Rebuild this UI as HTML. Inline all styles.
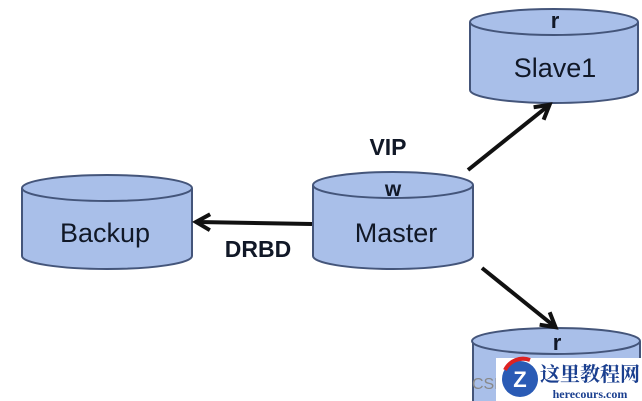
<!DOCTYPE html>
<html><head><meta charset="utf-8"><style>
html,body{margin:0;padding:0;background:#fff;}
svg{display:block}
</style></head><body>
<svg width="642" height="401" viewBox="0 0 642 401" xmlns="http://www.w3.org/2000/svg" font-family="Liberation Sans, sans-serif">
<defs>
<marker id="ah" markerWidth="20" markerHeight="20" refX="14" refY="10" orient="auto" markerUnits="userSpaceOnUse" viewBox="0 0 20 20">
<path d="M2,2 L16,10 L2,18" fill="none" stroke="#111" stroke-width="4"/>
</marker>
</defs>
<g fill="#a9bfe9" stroke="#44557a" stroke-width="2">
<path d="M470,22 L470,90 A84,13 0 0 0 638,90 L638,22"/>
<ellipse cx="554" cy="22" rx="84" ry="13"/>
<path d="M313,185 L313,256 A80,13 0 0 0 473,256 L473,185"/>
<ellipse cx="393" cy="185" rx="80" ry="13"/>
<path d="M22,188 L22,256 A85,13 0 0 0 192,256 L192,188"/>
<ellipse cx="107" cy="188" rx="85" ry="13"/>
<path d="M473,341 L473,410 L640,410 L640,341"/>
<ellipse cx="556" cy="341" rx="84" ry="13"/>
</g>
<g stroke="#111" stroke-width="4" fill="none">
<line x1="312" y1="224" x2="198" y2="222" marker-end="url(#ah)"/>
<line x1="468" y1="170" x2="548" y2="106" marker-end="url(#ah)"/>
<line x1="482" y1="268" x2="554" y2="326" marker-end="url(#ah)"/>
</g>
<g fill="#111827" text-anchor="middle">
<text x="555" y="28" font-size="22" font-weight="bold">r</text>
<text x="555" y="77" font-size="27">Slave1</text>
<text x="393" y="196" font-size="21" font-weight="bold">w</text>
<text x="396" y="242" font-size="27">Master</text>
<text x="105" y="242" font-size="27">Backup</text>
<text x="557" y="350" font-size="22" font-weight="bold">r</text>
<text x="388" y="155" font-size="23" font-weight="bold">VIP</text>
<text x="258" y="257" font-size="23" font-weight="bold">DRBD</text>
</g>
<text x="472" y="389" font-size="16" fill="#888">CSD</text>
<rect x="496" y="358" width="146" height="43" fill="#fff"/>
<circle cx="520" cy="379" r="18" fill="#2a5bb5"/>
<path d="M505,370 A20,20 0 0 1 530,360" stroke="#d22" stroke-width="4" fill="none"/>
<text x="520" y="387" font-size="22" font-weight="bold" fill="#fff" text-anchor="middle">Z</text>
<text x="590" y="381" font-size="20" font-weight="bold" fill="#1a3f8f" text-anchor="middle" font-family="Noto Serif CJK SC, serif">这里教程网</text>
<text x="590" y="398" font-size="12" font-weight="bold" fill="#1a3f8f" text-anchor="middle" font-family="Liberation Serif, serif">herecours.com</text>
</svg>
</body></html>
